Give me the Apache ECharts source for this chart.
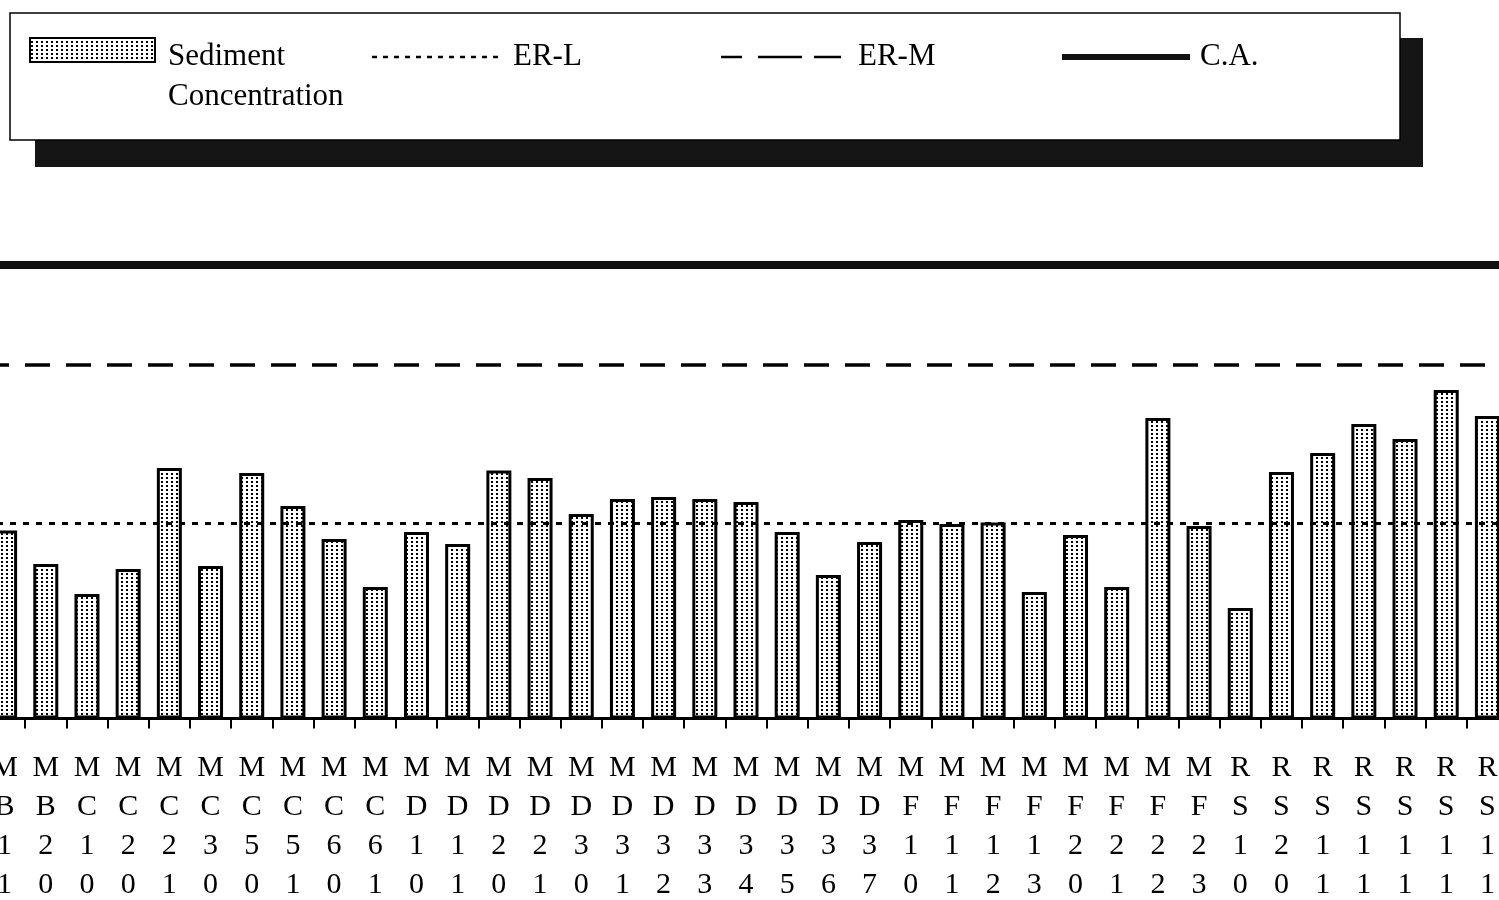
<!DOCTYPE html>
<html><head><meta charset="utf-8">
<script src="https://cdn.jsdelivr.net/npm/echarts@6/dist/echarts.min.js"></script>
<style>html,body{margin:0;padding:0;background:#fff;overflow:hidden}#c{width:1499px;height:900px}</style>
</head><body><div id="c"></div>
<script>
// Station codes (each character shown on its own row)
const categories = ['MB11','MB20','MC10','MC20','MC21','MC30','MC50','MC51','MC60','MC61',
  'MD10','MD11','MD20','MD21','MD30','MD31','MD32','MD33','MD34','MD35','MD36','MD37',
  'MF10','MF11','MF12','MF13','MF20','MF21','MF22','MF23',
  'RS10','RS20','RS11','RS11','RS11','RS11','RS11'];
// Sediment concentration
const sediment = [77,63.3,51,61.3,102.7,62.5,100.6,87.1,73.6,53.9,
  76.4,71.5,101.6,98.6,83.8,90,90.8,90,88.7,76.4,58.8,72.3,
  81.4,79.7,80.3,51.8,75.2,53.9,123.2,78.9,
  45.3,101,108.8,120.7,114.5,134.6,124];
const ER_L = [80];
const ER_M = [145];
const CA = [186];
const legendNames = ['Sediment', 'Concentration', 'ER-L', 'ER-M', 'C.A.'];

function makePattern(){
  const c = document.createElement('canvas');
  c.width = 5; c.height = 4;
  const g = c.getContext('2d');
  g.fillStyle = '#ffffff'; g.fillRect(0,0,5,4);
  g.fillStyle = '#000000'; g.fillRect(1,1,2,2);
  return c;
}
const pat = makePattern();
const FONT = '"Liberation Serif","Times New Roman",serif';

const chart = echarts.init(document.getElementById('c'), null, {renderer:'canvas'});
chart.setOption({
  animation: false,
  backgroundColor: '#ffffff',
  grid: {left: -16, right: -9, top: 35.3, bottom: 181.5, containLabel: false, outerBoundsMode: 'none'},
  xAxis: {
    type: 'category',
    data: categories,
    axisLine: {show: true, lineStyle: {color: '#000', width: 3}},
    axisTick: {show: true, length: 10, lineStyle: {color: '#000', width: 2}},
    axisLabel: {
      interval: 0, margin: 30, color: '#000',
      fontFamily: FONT, fontSize: 30, lineHeight: 39,
      formatter: v => v.split('').join('\n')
    }
  },
  yAxis: {
    type: 'value', min: 0, max: 280, show: false,
    splitLine: {show: false}
  },
  series: [{
    name: 'Sediment Concentration',
    type: 'bar',
    data: sediment,
    barWidth: 25,
    itemStyle: {color: {image: pat, repeat: 'repeat'}, borderColor: '#000', borderWidth: 3},
    markLine: {
      silent: true, symbol: 'none', label: {show: false},
      data: [
        {name: 'ER-L', yAxis: ER_L[0], lineStyle: {color: '#000', width: 3, type: [6,7]}},
        {name: 'ER-M', yAxis: ER_M[0], lineStyle: {color: '#000', width: 3.5, type: [25,16]}},
        {name: 'C.A.', yAxis: CA[0], lineStyle: {color: '#111', width: 8, type: 'solid'}}
      ]
    }
  }],
  graphic: [
    {type: 'rect', shape: {x: 35, y: 38, width: 1388, height: 129}, style: {fill: '#151515'}, z: 10},
    {type: 'rect', shape: {x: 10, y: 13, width: 1390, height: 127}, style: {fill: '#fff', stroke: '#000', lineWidth: 1.5}, z: 11},
    {type: 'rect', shape: {x: 30, y: 38, width: 125, height: 24}, style: {fill: {image: pat, repeat: 'repeat'}, stroke: '#000', lineWidth: 2}, z: 12},
    {type: 'text', x: 168, y: 57, style: {text: legendNames[0], font: '31px ' + FONT, fill: '#000', verticalAlign: 'middle'}, z: 12},
    {type: 'text', x: 168, y: 97, style: {text: legendNames[1], font: '31px ' + FONT, fill: '#000', verticalAlign: 'middle'}, z: 12},
    {type: 'line', shape: {x1: 372, y1: 57, x2: 500, y2: 57}, style: {stroke: '#000', lineWidth: 2.5, lineDash: [5,6]}, z: 12},
    {type: 'text', x: 513, y: 57, style: {text: legendNames[2], font: '31px ' + FONT, fill: '#000', verticalAlign: 'middle'}, z: 12},
    {type: 'line', shape: {x1: 721, y1: 57, x2: 841, y2: 57}, style: {stroke: '#000', lineWidth: 2.5, lineDash: [21,16,44,12,30,40]}, z: 12},
    {type: 'text', x: 858, y: 57, style: {text: legendNames[3], font: '31px ' + FONT, fill: '#000', verticalAlign: 'middle'}, z: 12},
    {type: 'line', shape: {x1: 1062, y1: 57, x2: 1190, y2: 57}, style: {stroke: '#111', lineWidth: 6}, z: 12},
    {type: 'text', x: 1200, y: 57, style: {text: legendNames[4], font: '31px ' + FONT, fill: '#000', verticalAlign: 'middle'}, z: 12}
  ]
});
</script>
</body></html>
